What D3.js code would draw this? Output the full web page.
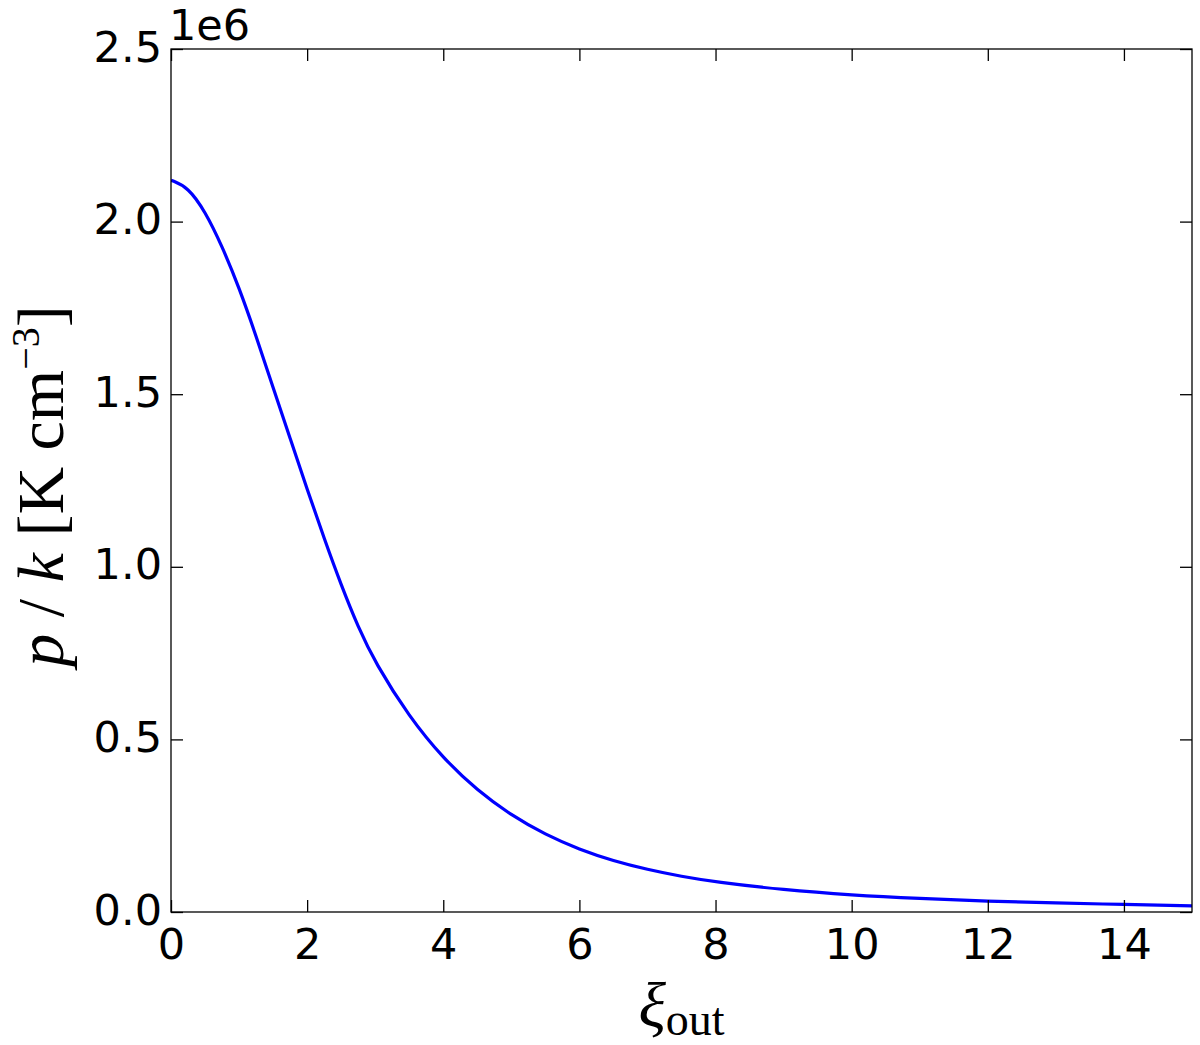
<!DOCTYPE html>
<html>
<head>
<meta charset="utf-8">
<script src="https://cdn.jsdelivr.net/npm/d3@7"></script>
<style>
  body { margin: 0; background: #fff; }
  .tick text { font-family: "DejaVu Sans", sans-serif; font-size: 43px; fill: #000; }
  .lbl { font-family: "Liberation Serif", "DejaVu Serif", serif; fill: #000; }
</style>
</head>
<body>
<div id="chart"></div>
<script>
// values
var xiOut = [0, 0.25, 0.5, 0.75, 1, 1.25, 1.5, 1.75, 2, 2.25, 2.5, 2.75, 3, 3.5, 4, 4.5,
             5, 5.5, 6, 6.5, 7, 7.5, 8, 9, 10, 11, 12, 13, 14, 15];
var pOverK = [2.120e6, 2.100e6, 2.030e6, 1.929e6, 1.809e6, 1.669e6, 1.519e6, 1.372e6, 1.225e6,
              1.082e6, 0.947e6, 0.825e6, 0.722e6, 0.565e6, 0.445e6, 0.352e6, 0.280e6, 0.224e6,
              0.181e6, 0.148e6, 0.123e6, 0.103e6, 0.087e6, 0.064e6, 0.049e6, 0.039e6, 0.031e6,
              0.026e6, 0.022e6, 0.018e6];
var xTicks = [0, 2, 4, 6, 8, 10, 12, 14];
var yTicks = [0, 0.5e6, 1.0e6, 1.5e6, 2.0e6, 2.5e6];

var W = 1200, H = 1045;
var margin = {top: 49, right: 8, bottom: 133, left: 171};
var width = W - margin.left - margin.right;
var height = H - margin.top - margin.bottom;

var svg = d3.select("#chart").append("svg")
    .attr("width", W)
    .attr("height", H);
var g = svg.append("g")
    .attr("transform", "translate(" + margin.left + "," + margin.top + ")");

var x = d3.scaleLinear().domain([0, 15]).range([0, width]);
var y = d3.scaleLinear().domain([0, 2.5e6]).range([height, 0]);

g.append("clipPath").attr("id", "clip")
  .append("rect").attr("width", width).attr("height", height);

// curve
var pts = xiOut.map(function(d, i){ return [d, pOverK[i]]; });
g.append("path")
    .datum(pts)
    .attr("clip-path", "url(#clip)")
    .attr("fill", "none")
    .attr("stroke", "#0000ff")
    .attr("stroke-width", 3.2)
    .attr("d", d3.line()
      .x(function(d){ return x(d[0]); })
      .y(function(d){ return y(d[1]); })
      .curve(d3.curveBasis));

// axes, ticks inward on all sides
var xAx = g.append("g").attr("class", "x axis")
    .attr("transform", "translate(0," + height + ")")
    .call(d3.axisBottom(x).tickValues(xTicks).tickSizeInner(-12).tickSizeOuter(0).tickPadding(0));
xAx.selectAll(".tick text").attr("y", 47).attr("dy", 0);

var yAx = g.append("g").attr("class", "y axis")
    .call(d3.axisLeft(y).tickValues(yTicks).tickSizeInner(-12).tickSizeOuter(0)
      .tickFormat(function(d){ return (d / 1e6).toFixed(1); }));
yAx.selectAll(".tick text").attr("x", -9).attr("dy", 0).attr("y", 12);

g.append("g")
    .call(d3.axisTop(x).tickValues(xTicks).tickSizeInner(-12).tickSizeOuter(0).tickFormat(""));
g.append("g")
    .attr("transform", "translate(" + width + ",0)")
    .call(d3.axisRight(y).tickValues(yTicks).tickSizeInner(-12).tickSizeOuter(0).tickFormat(""));

g.selectAll(".domain").remove();
g.selectAll(".tick line").attr("stroke", "#000").attr("stroke-width", 1.3);

g.append("rect")
    .attr("width", width).attr("height", height)
    .attr("fill", "none").attr("stroke", "#000").attr("stroke-width", 1.3);

// offset text
g.append("text")
    .attr("x", -2).attr("y", -9)
    .style("font-family", "'DejaVu Sans', sans-serif")
    .style("font-size", "43px")
    .text("1e6");

// x label
var xl = svg.append("text").attr("class", "lbl")
    .attr("x", margin.left + width / 2).attr("y", 1027)
    .attr("text-anchor", "middle")
    .style("font-size", "64px");
xl.append("tspan").style("font-style", "italic").text("ξ");
xl.append("tspan").attr("dy", 8).style("font-size", "46px").text("out");

// y label
var yl = svg.append("text").attr("class", "lbl")
    .attr("transform", "translate(63,486) rotate(-90)")
    .attr("text-anchor", "middle")
    .style("font-size", "66px");
yl.append("tspan").style("font-style", "italic").text("p");
yl.append("tspan").text(" / ");
yl.append("tspan").style("font-style", "italic").text("k");
yl.append("tspan").text(" [K cm");
yl.append("tspan").attr("dy", -24).style("font-size", "40px").text("−3");
yl.append("tspan").attr("dy", 24).text("]");
</script>
</body>
</html>
